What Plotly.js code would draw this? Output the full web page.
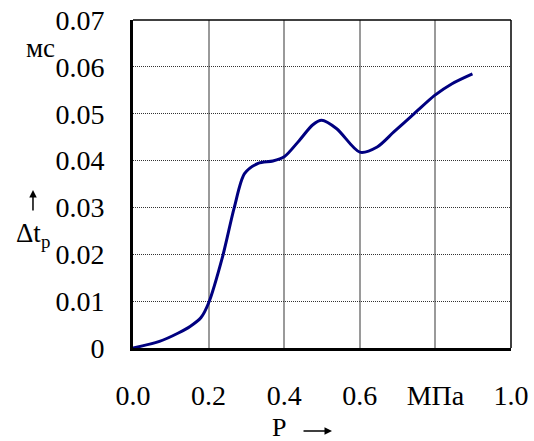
<!DOCTYPE html>
<html>
<head>
<meta charset="utf-8">
<script src="https://cdn.plot.ly/plotly-3.0.1.min.js"></script>
<style>html,body{margin:0;padding:0;background:#fff;}#chart{width:534px;height:441px;}
#chart svg text{font-family:'Liberation Serif' !important;}
#note{position:absolute;left:0;top:0;width:1px;height:1px;overflow:hidden;font-family:'Liberation Serif';font-size:1px;color:#fff;}</style>
</head>
<body>
<div id="chart"></div>
<div id="note"></div>
<script>
// Data
const pressure = [0.0, 0.07, 0.12, 0.151, 0.18, 0.2, 0.237, 0.268, 0.295, 0.331, 0.37, 0.4, 0.44, 0.475, 0.499, 0.539, 0.6, 0.646, 0.69, 0.744, 0.798, 0.844, 0.898];
const deltaT   = [0.0, 0.0014, 0.0032, 0.0046, 0.0065, 0.0096, 0.0195, 0.030, 0.0372, 0.0394, 0.0399, 0.0408, 0.0443, 0.0476, 0.0486, 0.0468, 0.0418, 0.0429, 0.0461, 0.0500, 0.0539, 0.0564, 0.0585];

const xTickVals = [0, 0.2, 0.4, 0.6, 0.8, 1.0];
const xTickText = ['0.0', '0.2', '0.4', '0.6', 'МПа', '1.0'];
const yTickVals = [0, 0.01, 0.02, 0.03, 0.04, 0.05, 0.06, 0.07];
const yTickText = ['0', '0.01', '0.02', '0.03', '0.04', '0.05', '0.06', '0.07'];

const serif = 'Liberation Serif';

const trace = {
  x: pressure, y: deltaT, type: 'scatter', mode: 'lines',
  line: {color: '#000080', width: 3, shape: 'spline', smoothing: 0.8},
  hoverinfo: 'skip'
};

const layout = {
  width: 534, height: 441,
  margin: {l: 133, r: 23, t: 20, b: 93},
  paper_bgcolor: '#fff', plot_bgcolor: '#fff',
  showlegend: false,
  font: {family: serif, size: 28, color: '#000'},
  xaxis: {
    range: [0, 1.0], tickvals: xTickVals, ticktext: xTickText,
    showgrid: true, gridcolor: '#9a9a9a', gridwidth: 2,
    showline: true, linecolor: '#000', linewidth: 3,
    ticks: '', ticklabelstandoff: 20, zeroline: false,
    tickfont: {family: serif, size: 28, color: '#000'}
  },
  yaxis: {
    range: [0, 0.07], tickvals: yTickVals, ticktext: yTickText,
    showgrid: true, gridcolor: '#333', gridwidth: 1, griddash: '1px,1px',
    showline: true, linecolor: '#000', linewidth: 3,
    ticks: '', ticklabelstandoff: 20, zeroline: false,
    tickfont: {family: serif, size: 28, color: '#000'}
  },
  shapes: [
    {type: 'line', xref: 'paper', yref: 'paper', x0: 0, x1: 1, y0: 1, y1: 1, line: {color: '#000', width: 1.5}},
    {type: 'line', xref: 'paper', yref: 'paper', x0: 1, x1: 1, y0: 0, y1: 1, line: {color: '#000', width: 1.5}}
  ],
  annotations: [
    {text: 'мс', xref: 'paper', yref: 'paper', x: -0.2434, y: 0.9146, showarrow: false, xanchor: 'center', yanchor: 'middle', font: {family: serif, size: 27}},
    {text: 'Δt<sub>р</sub>', xref: 'paper', yref: 'paper', x: -0.2646, y: 0.345, showarrow: false, xanchor: 'center', yanchor: 'middle', font: {family: serif, size: 27}},
    {text: '', xref: 'paper', yref: 'paper', x: -0.2646, y: 0.4817, ax: 0, ay: 22, showarrow: true, arrowhead: 2, arrowsize: 1, arrowwidth: 1.5, arrowcolor: '#000'},
    {text: 'P', xref: 'paper', yref: 'paper', x: 0.386, y: -0.242, showarrow: false, xanchor: 'center', yanchor: 'middle', font: {family: serif, size: 26}},
    {text: '', xref: 'paper', yref: 'paper', x: 0.5265, y: -0.253, ax: -30, ay: 0, showarrow: true, arrowhead: 2, arrowsize: 1, arrowwidth: 1.5, arrowcolor: '#000'}
  ]
};

const config = {displayModeBar: false, staticPlot: true};
Plotly.newPlot('chart', [trace], layout, config).then(function () {
  // touch the DOM after drawing so text is repainted with the serif face
  var t = document.querySelector('.xtick text');
  document.getElementById('note').textContent = t ? getComputedStyle(t).fontFamily : '';
});
</script>
</body>
</html>
